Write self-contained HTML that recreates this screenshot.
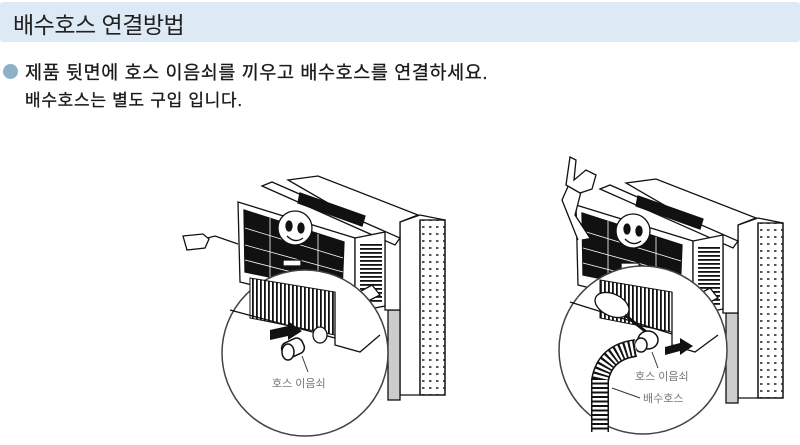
<!DOCTYPE html>
<html><head><meta charset="utf-8"><style>
html,body{margin:0;padding:0;background:#fff;}
body{width:800px;height:445px;overflow:hidden;position:relative;font-family:"Liberation Sans","Noto Sans CJK KR",sans-serif;}
.hdr{position:absolute;left:0;top:2px;width:800px;height:40px;background:#dde9f4;border-radius:3px;}
.t{position:absolute;left:13px;top:6px;font-size:23px;color:#222;letter-spacing:-0.5px;}
.dot{position:absolute;left:3px;top:64px;width:15px;height:15px;border-radius:50%;background:#8fb1c8;}
.l1{position:absolute;left:25px;top:59px;font-size:18.5px;color:#1a1a1a;letter-spacing:0.6px;-webkit-text-stroke:0.3px #1a1a1a;}
.l2{position:absolute;left:25px;top:86px;font-size:17px;color:#1a1a1a;letter-spacing:0.7px;-webkit-text-stroke:0.3px #1a1a1a;}
</style></head><body>
<div class="hdr"></div>
<div class="t">배수호스 연결방법</div>
<div class="dot"></div>
<div class="l1">제품 뒷면에 호스 이음쇠를 끼우고 배수호스를 연결하세요.</div>
<div class="l2">배수호스는 별도 구입 입니다.</div>
<svg width="800" height="445" style="position:absolute;left:0;top:0" font-family="Liberation Sans, Noto Sans CJK KR, sans-serif">
<defs>
<pattern id="dots" width="7" height="7" patternUnits="userSpaceOnUse"><rect x="2" y="2" width="2.5" height="2" fill="#555"/></pattern>
<pattern id="vl" width="4" height="4" patternUnits="userSpaceOnUse"><rect width="4" height="4" fill="#fff"/><rect width="1.8" height="4" fill="#111"/></pattern>
<pattern id="hl" width="4" height="4" patternUnits="userSpaceOnUse"><rect width="4" height="4" fill="#fff"/><rect width="4" height="1.8" fill="#111"/></pattern>
<g id="unit" stroke="#111" stroke-width="1.3" fill="#fff">
 <polygon points="400,222 420,215 445,220 445,395 400,395"/>
 <rect x="420" y="220" width="25" height="175" fill="url(#dots)"/>
 <line x1="420" y1="220" x2="420" y2="395"/>
 <rect x="388" y="310" width="12" height="90" fill="#ccc"/>
 <polygon points="288,180 318,176 418,215 400,222 400,310 385,310 385,236"/>
 <polygon points="262,186 272,182 400,238 395,245"/>
 <polygon points="238,202 355,238 355,310 240,282"/>
 <polygon points="244,210 344,242 342,292 245,272" fill="#111"/>
 <g stroke="#fff" stroke-width="0.8"><line x1="245" y1="228" x2="343" y2="258"/><line x1="245" y1="245" x2="343" y2="272"/><line x1="245" y1="260" x2="342" y2="285"/><line x1="270" y1="218" x2="270" y2="277"/><line x1="318" y1="234" x2="318" y2="288"/></g>
 <polygon points="300,193 365,216 362,226 298,203" fill="#111"/>
 <polygon points="355,238 385,232 385,306 355,312"/>
 <rect x="360" y="242" width="22" height="60" fill="url(#hl)" stroke="none"/>
 <circle cx="295" cy="228" r="17"/>
 <ellipse cx="289" cy="226" rx="3" ry="5" fill="#111"/><ellipse cx="301" cy="228" rx="3" ry="5" fill="#111"/>
 <path d="M287,236 Q295,244 303,238" fill="none"/>
 <rect x="283" y="260" width="18" height="6" fill="#fff"/>
</g>
</defs>
<use href="#unit"/>
<path d="M200,240 L215,236 L238,244" fill="none" stroke="#111" stroke-width="1.3"/>
<path d="M183,236 l20,-2 l6,5 l-4,9 l-18,2 z" fill="#fff" stroke="#111" stroke-width="1.3"/>
<path d="M345,300 L372,285 L380,295 L360,305 z" fill="#fff" stroke="#111" stroke-width="1.3"/>
<circle cx="305" cy="353" r="83" fill="#fff" stroke="#444" stroke-width="1.5"/>
<path d="M250,278 L335,292 L335,335 L250,318 z" fill="url(#vl)" stroke="#111"/>
<line x1="230" y1="310" x2="335" y2="338" stroke="#111" stroke-width="1.3"/>
<polyline points="335,292 335,345 360,352 380,335" fill="none" stroke="#111" stroke-width="1.3"/>
<ellipse cx="320" cy="335" rx="7" ry="8" fill="#fff" stroke="#111" stroke-width="1.3"/>
<polygon points="270,330 288,326 288,321 302,331 288,340 288,336 270,340" fill="#111"/>
<rect x="282" y="340" width="22" height="16" rx="6" fill="#fff" stroke="#111" stroke-width="1.5" transform="rotate(-25 293 348)"/>
<ellipse cx="288" cy="352" rx="6" ry="8" fill="#fff" stroke="#111" stroke-width="1.5"/>
<line x1="302" y1="356" x2="308" y2="372" stroke="#333"/>
<text x="272" y="387" font-size="11" fill="#777">호스 이음쇠</text>
<g transform="translate(338,3)"><use href="#unit"/></g>
<path d="M578,240 L562,200 L570,182 L582,188 L575,215 L590,238" fill="#fff" stroke="#111" stroke-width="1.3"/>
<path d="M566,185 l4,-28 l6,3 l-2,20 l12,-10 l10,5 l-4,14 l-12,4 z" fill="#fff" stroke="#111" stroke-width="1.3"/>
<path d="M683,303 L710,288 L718,298 L698,308 z" fill="#fff" stroke="#111" stroke-width="1.3"/>
<circle cx="643" cy="350" r="84" fill="#fff" stroke="#444" stroke-width="1.5"/>
<path d="M600,280 L672,292 L672,332 L600,318 z" fill="url(#vl)" stroke="#111"/>
<line x1="570" y1="302" x2="672" y2="334" stroke="#111" stroke-width="1.3"/>
<polyline points="672,292 672,345 695,352 718,335" fill="none" stroke="#111" stroke-width="1.3"/>
<ellipse cx="612" cy="305" rx="18" ry="11" fill="#fff" stroke="#111" stroke-width="1.3" transform="rotate(25 612 305)"/>
<line x1="625" y1="315" x2="650" y2="335" stroke="#111" stroke-width="3"/>
<polygon points="665,347 680,343 680,338 693,346 680,355 680,351 665,355" fill="#111"/>
<ellipse cx="648" cy="340" rx="10" ry="9" fill="#fff" stroke="#111" stroke-width="1.5"/>
<ellipse cx="641" cy="345" rx="6" ry="7" fill="#fff" stroke="#111" stroke-width="1.5"/>
<path d="M600,432 L600,380 Q605,352 636,348" fill="none" stroke="#111" stroke-width="18"/>
<path d="M600,432 L600,380 Q605,352 636,348" fill="none" stroke="#fff" stroke-width="15" stroke-dasharray="2.5 2"/>
<line x1="652" y1="352" x2="658" y2="368" stroke="#333"/>
<line x1="612" y1="388" x2="640" y2="398" stroke="#333"/>
<text x="635" y="380" font-size="11" fill="#777">호스 이음쇠</text>
<text x="643" y="402" font-size="11" fill="#777">배수호스</text>
</svg>
</body></html>
